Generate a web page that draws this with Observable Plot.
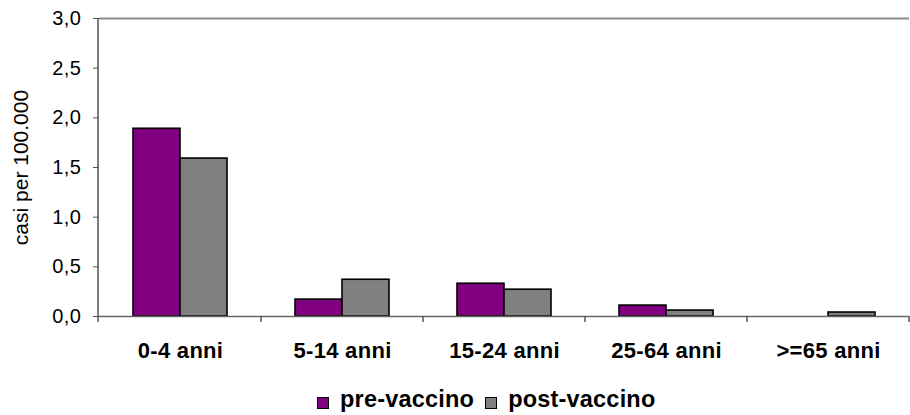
<!DOCTYPE html>
<html>
<head>
<meta charset="utf-8">
<script src="https://cdn.jsdelivr.net/npm/d3@7"></script>
<script src="https://cdn.jsdelivr.net/npm/@observablehq/plot@0.6"></script>
<style>
  html, body { margin: 0; padding: 0; background: #fff; }
  body { width: 910px; height: 415px; overflow: hidden; font-family: "Liberation Sans", Arial, sans-serif; }
  #chart { height: 380px; }
  #legend { display: flex; justify-content: flex-start; align-items: center; height: 23px; line-height: 23px;
            margin-top: 8px; padding-left: 317px; font-weight: bold; font-size: 23.5px; letter-spacing: 0.2px; color: #000; }
  #legend .item { display: flex; align-items: center; margin-right: 11px; }
  #legend .sw { width: 10px; height: 10px; border: 1.5px solid #000; margin-right: 11px; position: relative; top: 3px; }
</style>
</head>
<body>
<div id="chart"></div>
<div id="legend"></div>
<script>
const categories = ["0-4 anni", "5-14 anni", "15-24 anni", "25-64 anni", ">=65 anni"];
const seriesNames = ["pre-vaccino", "post-vaccino"];
const preVaccino = [1.89, 0.17, 0.33, 0.11, 0];
const postVaccino = [1.59, 0.37, 0.27, 0.06, 0.04];
const seriesColors = ["#800080", "#808080"];
const yTicks = [0, 0.5, 1, 1.5, 2, 2.5, 3];

const data = [];
categories.forEach((c, i) => {
  data.push({cat: c, series: seriesNames[0], value: preVaccino[i]});
  data.push({cat: c, series: seriesNames[1], value: postVaccino[i]});
});

const fmt = d => d.toFixed(1).replace(".", ",");
const W = 910, H = 380, mL = 98, mT = 18, mB = 64, mR = 0;

const chart = Plot.plot({
  width: W,
  height: H,
  marginLeft: mL,
  marginRight: mR,
  marginTop: mT,
  marginBottom: mB,
  style: {fontFamily: "'Liberation Sans', Arial, sans-serif", color: "#000", background: "#fff"},
  fx: {domain: categories, padding: 0, label: null},
  x: {domain: seriesNames, paddingInner: 0, paddingOuter: 0.7, axis: null},
  y: {domain: [0, 3], ticks: yTicks},
  color: {domain: seriesNames, range: seriesColors},
  marks: [
    Plot.ruleY([3], {stroke: "#8c8c8c", strokeWidth: 2}),
    Plot.barY(data.filter(d => d.value > 0), {fx: "cat", x: "series", y: "value", fill: "series", stroke: "#000", strokeWidth: 1.6}),
    Plot.ruleY([0], {stroke: "#666", strokeWidth: 1.5}),
    Plot.axisY({ticks: yTicks, tickFormat: fmt, tickSize: 6, tickPadding: 12, fontSize: 20, stroke: "#555",
      label: "casi per 100.000", labelAnchor: "center", labelArrow: "none", labelOffset: 86}),
    Plot.axisFx({anchor: "bottom", tickSize: 0, tickPadding: 26, fontSize: 22, fontWeight: "bold", label: null})
  ]
});

document.getElementById("chart").appendChild(chart);

const svg = d3.select(chart);
// typographic tweaks matching the reference's slightly wide lettering
svg.selectAll('[aria-label="y-axis tick label"] text').style("letter-spacing", "0.5px");
svg.selectAll('[aria-label="y-axis label"] text').style("font-size", "21px");
svg.selectAll('[aria-label="fx-axis tick label"] text').style("letter-spacing", "0.3px");

// y axis line and category separator ticks, placed from the plot's own scales
const ys = chart.scale("y"), fxs = chart.scale("fx");
const g = svg.append("g").attr("stroke", "#555").attr("stroke-width", 1.5);
g.append("line").attr("x1", mL).attr("x2", mL).attr("y1", ys.apply(3)).attr("y2", ys.apply(0) + 6);
categories.forEach((c) => {
  const x = fxs.apply(c) + fxs.bandwidth;
  g.append("line").attr("x1", x).attr("x2", x).attr("y1", ys.apply(0)).attr("y2", ys.apply(0) + 6);
});

const legend = d3.select("#legend");
seriesNames.forEach((s, i) => {
  const it = legend.append("div").attr("class", "item");
  it.append("div").attr("class", "sw").style("background", seriesColors[i]);
  it.append("span").text(s);
});
</script>
</body>
</html>
